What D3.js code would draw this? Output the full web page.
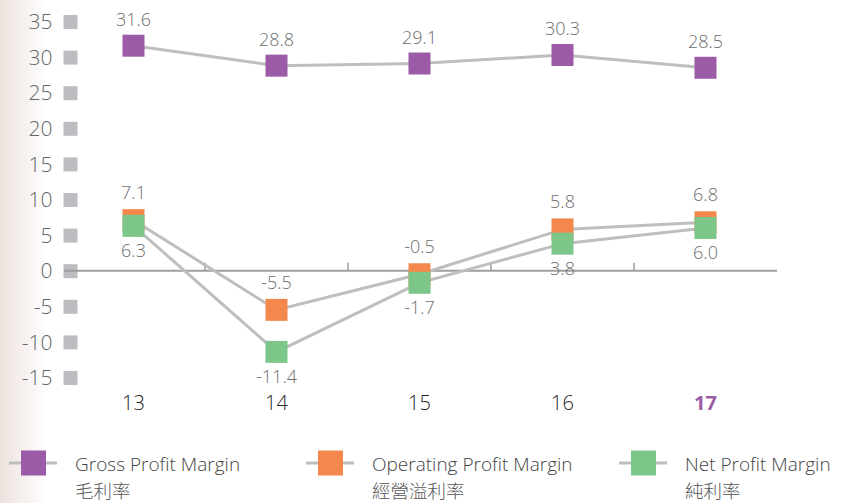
<!DOCTYPE html>
<html>
<head>
<meta charset="utf-8">
<script src="https://d3js.org/d3.v7.min.js"></script>
<style>
  body { margin: 0; background: #fff; }
  svg { display: block; font-family: "Open Sans", "Noto Sans", sans-serif; }
</style>
</head>
<body>
<div id="chart"></div>
<script>
// chart data
const years = ["13", "14", "15", "16", "17"];
const grossMargin = [31.6, 28.8, 29.1, 30.3, 28.5];
const operatingMargin = [7.1, -5.5, -0.5, 5.8, 6.8];
const netMargin = [6.3, -11.4, -1.7, 3.8, 6.0];
const yTicks = [35, 30, 25, 20, 15, 10, 5, 0, -5, -10, -15];
const seriesNames = ["Gross Profit Margin", "Operating Profit Margin", "Net Profit Margin"];
const seriesNamesZh = ["毛利率", "經營溢利率", "純利率"];

const W = 843, H = 503;
const colors = ["#9b5ba6", "#f4874c", "#7dc68a"];
const lineGrey = "#bebebe";

const svg = d3.select("#chart").append("svg")
  .attr("width", W).attr("height", H);

// left edge shading
const grad = svg.append("defs").append("linearGradient")
  .attr("id", "edge").attr("x1", 0).attr("x2", 1).attr("y1", 0).attr("y2", 0);
grad.append("stop").attr("offset", 0).attr("stop-color", "#ede2de");
grad.append("stop").attr("offset", 1).attr("stop-color", "#ffffff");
svg.append("rect").attr("x", 0).attr("y", 0).attr("width", 48).attr("height", H)
  .attr("fill", "url(#edge)");

const x = d3.scaleBand().domain(years).range([62, 777]).padding(0);
const y = d3.scaleLinear().domain([-15, 35]).range([377.5, 21.5]);
const cx = d => x(d) + x.bandwidth() / 2;

// y axis: labels + grey square markers
const yAxis = svg.append("g")
  .attr("transform", "translate(70.5,0)")
  .call(d3.axisLeft(y).tickValues(yTicks).tickSize(0).tickPadding(18)
    .tickFormat(d => String(d)));
yAxis.select(".domain").remove();
yAxis.selectAll("text")
  .attr("font-size", 21).attr("fill", "#666").attr("font-family", "Open Sans")
  .attr("font-weight", 300).attr("dy", "0.34em");
yAxis.selectAll(".tick").append("rect")
  .attr("x", -7).attr("y", -7).attr("width", 14).attr("height", 14)
  .attr("fill", "#bdbdc1");

// zero line with boundary ticks
svg.append("line")
  .attr("x1", 64).attr("x2", x.range()[1])
  .attr("y1", y(0)).attr("y2", y(0))
  .attr("stroke", "#9e9e9e").attr("stroke-width", 2);
svg.append("g").selectAll("line")
  .data(years.slice(1))
  .join("line")
  .attr("x1", d => x(d)).attr("x2", d => x(d))
  .attr("y1", y(0) - 8).attr("y2", y(0))
  .attr("stroke", "#9e9e9e").attr("stroke-width", 1.5);

// x axis labels
const xAxis = svg.append("g")
  .attr("transform", "translate(0,396)")
  .call(d3.axisBottom(x).tickSize(0).tickPadding(0));
xAxis.select(".domain").remove();
xAxis.selectAll("text")
  .attr("font-size", 20).attr("font-family", "Open Sans")
  .attr("fill", d => d === "17" ? "#9b5ba6" : "#222")
  .attr("font-weight", d => d === "17" ? "bold" : 300);

// lines then markers
const all = [grossMargin, operatingMargin, netMargin];
const line = d3.line().x((d, i) => cx(years[i])).y(d => y(d));

svg.append("g").selectAll("path")
  .data(all)
  .join("path")
  .attr("d", line)
  .attr("fill", "none")
  .attr("stroke", lineGrey)
  .attr("stroke-width", 3);

const mk = 22;
all.forEach((vals, s) => {
  svg.append("g").selectAll("rect")
    .data(vals)
    .join("rect")
    .attr("x", (d, i) => cx(years[i]) - mk / 2)
    .attr("y", d => y(d) - mk / 2)
    .attr("width", mk).attr("height", mk)
    .attr("fill", colors[s]);
});

// value labels
const labelOffset = [-20, -21, 31];
all.forEach((vals, s) => {
  svg.append("g").selectAll("text")
    .data(vals)
    .join("text")
    .attr("x", (d, i) => cx(years[i]))
    .attr("y", d => y(d) + labelOffset[s])
    .attr("text-anchor", "middle")
    .attr("font-size", 18)
    .attr("font-weight", 300)
    .attr("fill", "#6e6e6e")
    .text(d => d.toFixed(1));
});

// legend
const legendX = [9, 306, 619];
const legend = svg.append("g").selectAll("g")
  .data(seriesNames)
  .join("g")
  .attr("transform", (d, i) => `translate(${legendX[i]},463)`);
legend.append("line")
  .attr("x1", 0).attr("x2", 48).attr("y1", 0).attr("y2", 0)
  .attr("stroke", lineGrey).attr("stroke-width", 3);
legend.append("rect")
  .attr("x", 12).attr("y", -12.5).attr("width", 25).attr("height", 25)
  .attr("fill", (d, i) => colors[i]);
legend.append("text")
  .attr("x", 66).attr("y", 8)
  .attr("font-size", 19).attr("font-weight", 300).attr("fill", "#444")
  .text(d => d);
legend.append("text")
  .attr("x", 66).attr("y", 35)
  .attr("font-size", 18.5).attr("font-weight", 300).attr("fill", "#555")
  .attr("font-family", "Noto Sans CJK TC")
  .text((d, i) => seriesNamesZh[i]);
</script>
</body>
</html>
